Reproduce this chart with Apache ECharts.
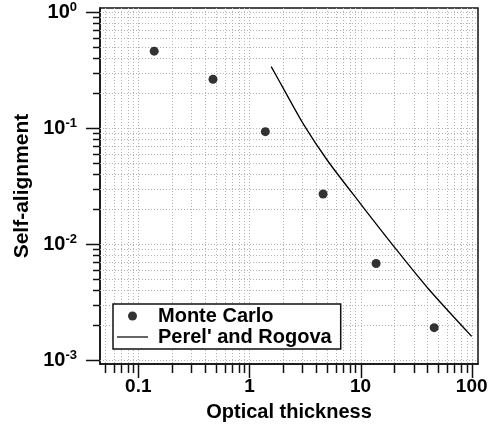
<!DOCTYPE html>
<html style="height: 100%">
<head>
  <meta charset="utf-8">
  <script src="https://cdn.jsdelivr.net/npm/echarts@6/dist/echarts.min.js"></script>
</head>
<body style="height: 100%; margin: 0; background: #fff">
  <div id="chart" style="width: 498px; height: 433px;"></div>
  <script type="text/javascript">
    // Monte Carlo points
    var mcX = [0.139, 0.47, 1.39, 4.6, 13.8, 46];
    var mcY = [0.46, 0.263, 0.093, 0.027, 0.0068, 0.0019];
    // Perel' and Rogova curve
    var prX = [1.57, 2, 3.08, 5, 10, 20, 40, 100];
    var prY = [0.338, 0.223, 0.107, 0.053, 0.0222, 0.0095, 0.0042, 0.0016];
    // axis ticks
    var xTickValues = [0.1, 1, 10, 100];
    var xTickLabels = ['0.1', '1', '10', '100'];
    var yTickValues = [0.001, 0.01, 0.1, 1];
    var yTickExps = ['-3', '-2', '-1', '0'];

    var xMin = 0.0452, xMax = 114;
    var yMin = 0.000924, yMax = 1.083;
    var font = "'Liberation Sans', Arial, sans-serif";

    function pairs(xs, ys) {
      var out = [];
      for (var i = 0; i < xs.length; i++) out.push([xs[i], ys[i]]);
      return out;
    }
    function tickIndex(list, v) {
      for (var i = 0; i < list.length; i++) {
        if (Math.abs(Math.log10(v) - Math.log10(list[i])) < 1e-6) return i;
      }
      return -1;
    }
    // minor tick values: 1..9 times each decade inside the range
    function minorTicks(lo, hi) {
      var out = [];
      for (var e = Math.floor(Math.log10(lo)); e <= Math.ceil(Math.log10(hi)); e++) {
        for (var m = 1; m <= 9; m++) {
          var v = m * Math.pow(10, e);
          if (v >= lo && v <= hi) out.push(v);
        }
      }
      return out;
    }
    var xGridData = minorTicks(xMin, xMax).map(function (v) { return [v, 0.01]; });
    var yGridData = minorTicks(yMin, yMax).map(function (v) { return [1, v]; });

    function crisp(p) { return Math.round(p) + 0.5; }

    var myChart = echarts.init(document.getElementById('chart'));
    var option = {
      backgroundColor: '#fff',
      animation: false,
      grid: {
        left: 100, right: 20, top: 8, bottom: 69,
        show: true, borderColor: '#111', borderWidth: 1.5, backgroundColor: 'transparent'
      },
      legend: {
        left: 113, top: 304,
        orient: 'vertical',
        backgroundColor: '#fff',
        borderColor: '#111', borderWidth: 1.5, borderRadius: 0,
        padding: [2, 9, 2, 4],
        itemWidth: 31, itemHeight: 9, itemGap: 1,
        textStyle: { fontFamily: font, fontWeight: 'bold', fontSize: 20, color: '#000', lineHeight: 20, padding: [0, 0, 0, 5] },
        data: [
          { name: 'Monte Carlo', icon: 'circle' },
          { name: "Perel' and Rogova", icon: 'path://M0,0H31V1.2H0Z' }
        ]
      },
      xAxis: {
        type: 'log', min: xMin, max: xMax,
        name: 'Optical thickness', nameLocation: 'middle', nameGap: 38,
        nameTextStyle: { fontFamily: font, fontWeight: 'bold', fontSize: 20, color: '#000' },
        axisLine: { show: true, lineStyle: { color: '#111', width: 1.5 } },
        axisTick: { show: false },
        splitLine: { show: false },
        axisLabel: {
          margin: 13, fontFamily: font, fontWeight: 'bold', fontSize: 19, color: '#000',
          formatter: function (v) {
            var i = tickIndex(xTickValues, v);
            return i < 0 ? '' : xTickLabels[i];
          }
        }
      },
      yAxis: {
        type: 'log', min: yMin, max: yMax,
        name: 'Self-alignment', nameLocation: 'middle', nameGap: 64,
        nameTextStyle: { fontFamily: font, fontWeight: 'bold', fontSize: 21, color: '#000' },
        axisLine: { show: true, lineStyle: { color: '#111', width: 1.5 } },
        axisTick: { show: false },
        splitLine: { show: false },
        axisLabel: {
          margin: 23, color: '#000',
          formatter: function (v) {
            var i = tickIndex(yTickValues, v);
            return i < 0 ? '' : '{b|10}{s|' + yTickExps[i] + '}';
          },
          rich: {
            b: { fontFamily: font, fontWeight: 'bold', fontSize: 20, color: '#000' },
            s: { fontFamily: font, fontWeight: 'bold', fontSize: 13, color: '#000', verticalAlign: 'top', padding: [0, 0, 10, 0] }
          }
        }
      },
      series: [
        {
          name: 'xgrid', type: 'custom', z: 1, silent: true,
          data: xGridData,
          renderItem: function (params, api) {
            var v = api.value(0);
            var p = api.coord([v, 0.01]);
            var cs = params.coordSys;
            var x = crisp(p[0]);
            var major = tickIndex(xTickValues, v) >= 0;
            var bottom = cs.y + cs.height;
            return {
              type: 'group',
              children: [
                { type: 'line', shape: { x1: x, y1: cs.y, x2: x, y2: bottom },
                  style: { stroke: '#b4b4b4', lineWidth: 1, lineDash: [1, 2] } },
                { type: 'line', shape: { x1: x, y1: bottom + 1, x2: x, y2: bottom + (major ? 14 : 9) },
                  style: { stroke: '#111', lineWidth: 1.5 } }
              ]
            };
          }
        },
        {
          name: 'ygrid', type: 'custom', z: 1, silent: true,
          data: yGridData,
          renderItem: function (params, api) {
            var v = api.value(1);
            var p = api.coord([1, v]);
            var cs = params.coordSys;
            var y = crisp(p[1]);
            var major = tickIndex(yTickValues, v) >= 0;
            return {
              type: 'group',
              children: [
                { type: 'line', shape: { x1: cs.x, y1: y, x2: cs.x + cs.width, y2: y },
                  style: { stroke: '#b4b4b4', lineWidth: 1, lineDash: [1, 2] } },
                { type: 'line', shape: { x1: cs.x - (major ? 14 : 7), y1: y, x2: cs.x, y2: y },
                  style: { stroke: '#111', lineWidth: 1.5 } }
              ]
            };
          }
        },
        {
          name: 'Monte Carlo', type: 'scatter', z: 3,
          symbol: 'circle', symbolSize: 9,
          itemStyle: { color: '#000' },
          data: pairs(mcX, mcY)
        },
        {
          name: "Perel' and Rogova", type: 'line', z: 3,
          symbol: 'none', showSymbol: false,
          smooth: 0.3,
          lineStyle: { color: '#000', width: 1.3 },
          itemStyle: { color: '#000' },
          data: pairs(prX, prY)
        }
      ]
    };
    myChart.setOption(option);
  </script>
</body>
</html>
